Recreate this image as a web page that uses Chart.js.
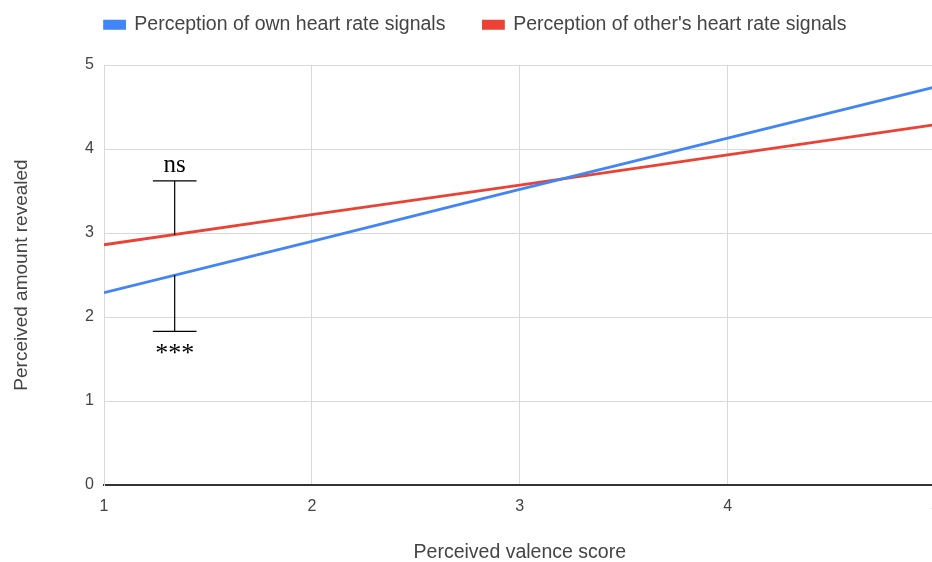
<!DOCTYPE html>
<html>
<head>
<meta charset="utf-8">
<script src="https://cdn.jsdelivr.net/npm/chart.js@4.4.0/dist/chart.umd.min.js"></script>
<style>
  html, body { margin: 0; padding: 0; background: #fff; overflow: hidden; }
  #wrap { width: 952px; height: 562px; }
</style>
</head>
<body>
<div id="wrap"><canvas id="lineChart"></canvas></div>
<script>
    // valores
    var valence = [1, 2, 3, 4, 5];
    var ownSignals = [2.29, 2.9, 3.52, 4.13, 4.74];
    var otherSignals = [2.86, 3.22, 3.57, 3.93, 4.29];
    var yTicks = [0, 1, 2, 3, 4, 5];

    // marcas de significância (x, topo, base)
    var nsMark = { x: 1.34, top: 3.62, bottom: 2.98, half: 0.105, label: 'ns' };
    var starMark = { x: 1.34, top: 2.5, bottom: 1.83, half: 0.105, label: '***' };

    var toPoints = function (ys) {
        return valence.map(function (x, i) { return { x: x, y: ys[i] }; });
    };

    var bracketPlugin = {
        id: 'brackets',
        beforeInit: function (chart) {
            // altura fixa da legenda
            var fit = chart.legend.fit;
            chart.legend.fit = function () {
                fit.bind(chart.legend)();
                this.height = 88;
            };
        },
        afterDatasetsDraw: function (chart) {
            var ctx = chart.ctx, sx = chart.scales.x, sy = chart.scales.y;
            ctx.save();
            ctx.strokeStyle = '#000';
            ctx.lineWidth = 1.2;
            ctx.fillStyle = '#000';
            ctx.textAlign = 'center';

            // ns: barra no topo
            var x = sx.getPixelForValue(nsMark.x);
            var t = sy.getPixelForValue(nsMark.top);
            var b = sy.getPixelForValue(nsMark.bottom);
            ctx.beginPath();
            ctx.moveTo(sx.getPixelForValue(nsMark.x - nsMark.half), t);
            ctx.lineTo(sx.getPixelForValue(nsMark.x + nsMark.half), t);
            ctx.moveTo(x, t);
            ctx.lineTo(x, b);
            ctx.stroke();
            ctx.font = '25px "Liberation Serif", "DejaVu Serif", serif';
            ctx.textBaseline = 'bottom';
            ctx.fillText(nsMark.label, x, t - 3);

            // ***: barra na base
            x = sx.getPixelForValue(starMark.x);
            t = sy.getPixelForValue(starMark.top);
            b = sy.getPixelForValue(starMark.bottom);
            ctx.beginPath();
            ctx.moveTo(x, t);
            ctx.lineTo(x, b);
            ctx.moveTo(sx.getPixelForValue(starMark.x - starMark.half), b);
            ctx.lineTo(sx.getPixelForValue(starMark.x + starMark.half), b);
            ctx.stroke();
            ctx.font = '26px "Liberation Serif", "DejaVu Serif", serif';
            ctx.textBaseline = 'top';
            ctx.fillText(starMark.label, x, b + 10);
            ctx.restore();
        }
    };

    var lineChart = new Chart(document.getElementById('lineChart').getContext('2d'), {
        type: 'line',
        data: {
            datasets: [
                {
                    label: 'Perception of own heart rate signals',
                    data: toPoints(ownSignals),
                    borderColor: '#4285F4',
                    backgroundColor: '#4285F4',
                    borderWidth: 2.8,
                    pointRadius: 0,
                    fill: false
                },
                {
                    label: "Perception of other's heart rate signals",
                    data: toPoints(otherSignals),
                    borderColor: '#EA4335',
                    backgroundColor: '#EA4335',
                    borderWidth: 2.8,
                    pointRadius: 0,
                    fill: false
                }
            ]
        },
        options: {
            responsive: true,
            maintainAspectRatio: false,
            animation: false,
            layout: { padding: { top: -23, right: 0, left: -1, bottom: 0 } },
            plugins: {
                legend: {
                    position: 'top',
                    labels: {
                        boxWidth: 20,
                        boxHeight: 7,
                        padding: 38,
                        color: '#444',
                        font: { family: 'Arial, "Liberation Sans", sans-serif', size: 19.5 }
                    }
                },
                tooltip: { enabled: false }
            },
            scales: {
                x: {
                    type: 'linear',
                    min: 1,
                    max: 5,
                    afterFit: function (scale) { scale.height = 77; },
                    ticks: {
                        stepSize: 1,
                        color: '#444',
                        padding: 12,
                        font: { family: 'Arial, "Liberation Sans", sans-serif', size: 16 }
                    },
                    grid: { color: '#d9d9d9', drawTicks: false },
                    border: { color: '#333', width: 2 },
                    title: {
                        display: true,
                        text: 'Perceived valence score',
                        color: '#444',
                        padding: { top: 20, bottom: -2 },
                        font: { family: 'Arial, "Liberation Sans", sans-serif', size: 19.5 }
                    }
                },
                y: {
                    min: 0,
                    max: 5,
                    afterFit: function (scale) { scale.width = 105; },
                    afterBuildTicks: function (scale) {
                        scale.ticks = yTicks.map(function (v) { return { value: v }; });
                    },
                    ticks: {
                        color: '#444',
                        padding: 10,
                        font: { family: 'Arial, "Liberation Sans", sans-serif', size: 16 }
                    },
                    grid: { color: '#d9d9d9', drawTicks: false },
                    border: { color: '#d9d9d9' },
                    title: {
                        display: true,
                        text: 'Perceived amount revealed',
                        color: '#444',
                        padding: { top: 11, bottom: 0 },
                        font: { family: 'Arial, "Liberation Sans", sans-serif', size: 19 }
                    }
                }
            }
        },
        plugins: [bracketPlugin]
    });
</script>
</body>
</html>
